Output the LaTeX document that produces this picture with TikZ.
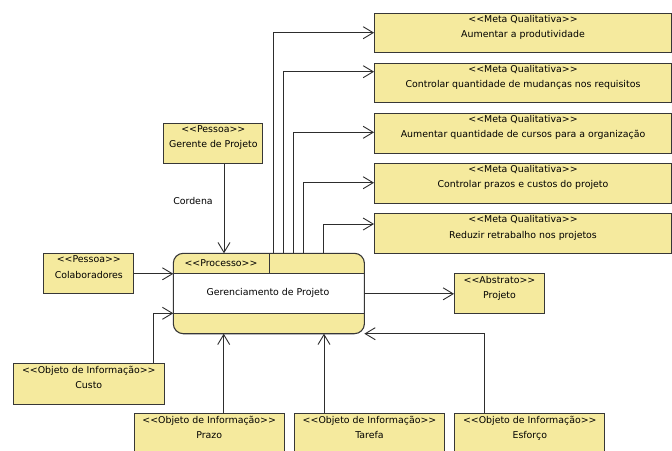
\documentclass[tikz,border=0pt]{standalone}
\usepackage{fontspec}
\setmainfont{DejaVu Sans}
\usetikzlibrary{arrows.meta}
\definecolor{boxfill}{RGB}{245,234,158}
\definecolor{boxline}{RGB}{55,55,55}
\definecolor{wireline}{RGB}{45,45,45}
\newcommand{\stL}{<\kern0pt<}
\newcommand{\stR}{>\kern0pt>}
\tikzset{
  umlbox/.style={draw=boxline, fill=boxfill, line width=1pt, rectangle, inner sep=0pt, anchor=north west},
  boxtext/.style={anchor=north, align=center, inner sep=2.4pt, text=black},
  arr/.style={draw=wireline, line width=0.9pt, -{Straight Barb[length=10pt,width=12pt,line width=0.9pt]}},
  wire/.style={draw=wireline, line width=0.9pt}
}
\begin{document}
\begin{tikzpicture}[x=1pt,y=-1pt,font=\fontsize{9.4}{15.5}\selectfont]
\clip (0,0) rectangle (672,450);
\useasboundingbox (0,0) rectangle (672,450);
\fill[white] (0,0) rectangle (672,450);

% Meta boxes
\node[umlbox, minimum width=297pt, minimum height=39.5pt] (m1) at (374,12.7) {};
\node[boxtext] (m1t) at (m1.north) {\stL Meta Qualitativa\stR\\Aumentar a produtividade};
\node[umlbox, minimum width=297pt, minimum height=39.5pt] (m2) at (374,62.7) {};
\node[boxtext] (m2t) at (m2.north) {\stL Meta Qualitativa\stR\\Controlar quantidade de mudanças nos requisitos};
\node[umlbox, minimum width=297pt, minimum height=40pt] (m3) at (374,112.7) {};
\node[boxtext] (m3t) at (m3.north) {\stL Meta Qualitativa\stR\\Aumentar quantidade de cursos para a organização};
\node[umlbox, minimum width=297pt, minimum height=40pt] (m4) at (374,162.7) {};
\node[boxtext] (m4t) at (m4.north) {\stL Meta Qualitativa\stR\\Controlar prazos e custos do projeto};
\node[umlbox, minimum width=297pt, minimum height=40pt] (m5) at (374,213) {};
\node[boxtext] (m5t) at (m5.north) {\stL Meta Qualitativa\stR\\Reduzir retrabalho nos projetos};

% Other boxes
\node[umlbox, minimum width=99pt, minimum height=40pt] (ger) at (163.3,122.7) {};
\node[boxtext] (gert) at (ger.north) {\stL Pessoa\stR\\Gerente de Projeto};
\node[umlbox, minimum width=90pt, minimum height=40pt] (col) at (43.3,253.3) {};
\node[boxtext] (colt) at (col.north) {\stL Pessoa\stR\\Colaboradores};
\node[umlbox, minimum width=150.8pt, minimum height=40.7pt] (cus) at (12.9,363.3) {};
\node[boxtext] (cust) at (cus.north) {\stL Objeto de Informação\stR\\Custo};
\node[umlbox, minimum width=150pt, minimum height=45pt] (pra) at (133.7,413.3) {};
\node[boxtext] (prat) at (pra.north) {\stL Objeto de Informação\stR\\Prazo};
\node[umlbox, minimum width=150pt, minimum height=45pt] (tar) at (294,413.3) {};
\node[boxtext] (tart) at (tar.north) {\stL Objeto de Informação\stR\\Tarefa};
\node[umlbox, minimum width=150pt, minimum height=45pt] (esf) at (454.3,413.3) {};
\node[boxtext] (esft) at (esf.north) {\stL Objeto de Informação\stR\\Esforço};
\node[umlbox, minimum width=90pt, minimum height=40pt] (pro) at (454,273.3) {};
\node[boxtext] (prot) at (pro.north) {\stL Abstrato\stR\\Projeto};

% Process
\node[minimum width=190.7pt, minimum height=80pt, inner sep=0pt, anchor=north west] (proc) at (173.3,253.3) {};
\fill[boxfill, rounded corners=10pt] (proc.north west) rectangle (proc.south east);
\fill[white] (173.3,273.3) rectangle (364,313.3);
\draw[boxline, line width=1pt] (173.3,273.3) -- (364,273.3);
\draw[boxline, line width=1pt] (173.3,313.3) -- (364,313.3);
\draw[boxline, line width=1pt] (269,253.3) -- (269,273.3);
\draw[boxline, line width=1.1pt, rounded corners=10pt] (proc.north west) rectangle (proc.south east);
\node[inner sep=0pt] (proch) at (221,263.5) {\stL Processo\stR};
\node[inner sep=0pt] (procn) at (268,293.3) {Gerenciamento de Projeto};

% Connectors
\draw[arr] (224,0 |- ger.south) -- (224,0 |- proc.north);
\node[inner sep=0pt] (cord) at (193,201) {Cordena};
\draw[arr] (col.east) -- (proc.west |- col.east);
\draw[arr] (153.4,0 |- cus.north) |- (proc.west |- 0,313.3);
\draw[arr] (223.7,0 |- pra.north) -- (223.7,0 |- proc.south);
\draw[arr] (324,0 |- tar.north) -- (324,0 |- proc.south);
\draw[arr] (484.3,0 |- esf.north) |- (proc.south east);
\draw[arr] (proc.east |- pro.west) -- (pro.west);

\draw[arr] (273.3,0 |- proc.north) |- (m1.west |- 0,32.7);
\draw[arr] (283.3,0 |- proc.north) |- (m2.west |- 0,71.7);
\draw[arr] (293.3,0 |- proc.north) |- (m3.west |- 0,132.3);
\draw[arr] (303.3,0 |- proc.north) |- (m4.west |- 0,182.7);
\draw[arr] (323.3,0 |- proc.north) |- (m5.west |- 0,224);
\end{tikzpicture}
\end{document}
